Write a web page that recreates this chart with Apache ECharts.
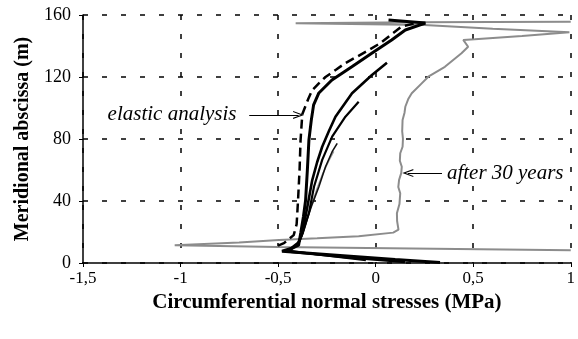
<!DOCTYPE html>
<html><head><meta charset="utf-8">
<script src="https://cdn.jsdelivr.net/npm/echarts@6/dist/echarts.min.js"></script>
<style>html,body{margin:0;padding:0;background:#fff}#c{width:578px;height:339px}</style>
</head><body><div id="c"></div>
<script>
// ---- data (x: MPa, y: m) ----
var xTicks = [-1.5, -1, -0.5, 0, 0.5, 1];
var yTicks = [0, 40, 80, 120, 160];
var elastic = [[-0.5,11.2],[-0.47,12.8],[-0.42,18],[-0.405,25],[-0.398,40],[-0.39,60],[-0.385,79],[-0.376,96],[-0.345,106],[-0.325,111.5],[-0.29,116],[-0.257,120],[-0.2,125],[-0.155,129],[-0.09,133.5],[-0.036,137.4],[0.02,141.5],[0.066,146],[0.133,152.5],[0.2,154.6]];
var mainCurve = [[0.33,0.3],[0.1,2.2],[-0.2,5],[-0.48,7.6],[-0.43,9.5],[-0.395,11.5],[-0.384,19.4],[-0.37,30],[-0.359,40.6],[-0.35,60],[-0.342,79.4],[-0.33,92],[-0.318,102],[-0.291,109.7],[-0.224,118.1],[-0.122,126.6],[-0.02,135.3],[0.082,143.9],[0.152,150.3],[0.255,154.8],[0.066,156.8]];
var curve2 = [[0.15,0.6],[-0.15,3.8],[-0.45,7.4],[-0.4,12],[-0.376,19.2],[-0.35,36.3],[-0.325,53.5],[-0.3,65],[-0.274,75],[-0.24,85],[-0.206,94.4],[-0.121,109.5],[-0.019,121.3],[0.058,129.2]];
var curve3 = [[-0.05,1.8],[-0.3,5.5],[-0.45,8],[-0.39,14],[-0.372,20],[-0.342,32.3],[-0.316,49.2],[-0.274,66.5],[-0.223,81.5],[-0.155,94.4],[-0.087,104]];
var curve4 = [[-0.38,17],[-0.352,28],[-0.325,38],[-0.291,49.2],[-0.257,62.1],[-0.223,71.8],[-0.197,77.2]];
var curve5 = [[-0.37,20],[-0.335,35],[-0.3,48],[-0.27,58],[-0.24,66],[-0.215,72]];
var after30 = [[1.0,8.2],[0.3,9.2],[-0.5,10.3],[-1.03,11.4],[-0.7,13.2],[-0.495,14.8],[-0.3,15.9],[-0.087,17.3],[0.09,19.6],[0.117,21.5],[0.11,27],[0.109,32.1],[0.122,38],[0.126,45],[0.116,49],[0.12,53.5],[0.131,58],[0.134,62.1],[0.124,66],[0.126,70.8],[0.138,75],[0.14,80],[0.136,85],[0.138,92.3],[0.148,97],[0.152,100.8],[0.168,106],[0.185,109.5],[0.236,115.9],[0.27,120.2],[0.355,126.6],[0.44,135.3],[0.474,139.5],[0.449,143.9],[0.508,144.3],[0.75,146.5],[0.993,148.8],[0.6,151.2],[0.25,153.6],[-0.41,154.6],[0.2,155.4],[1.0,155.6]];
// annotations (data coords)
var elasticText = {text: 'elastic analysis', x: -0.708, y: 95.5};
var elasticArrow = [[-0.648, 95.5], [-0.395, 95.5]];
var afterText = {text: 'after 30 years', x: 0.36, y: 58};
var afterArrow = [[0.34, 58], [0.165, 58]];

var chev = 'path://M0,12 L5,0 L10,12 L8.6,12 L5,3.5 L1.4,12 Z';
var serif = '"Liberation Serif","Times New Roman",serif';
var chart = echarts.init(document.getElementById('c'));
function ln(data, color, width, type) {
  return {type: 'line', data: data, showSymbol: false, symbol: 'none', clip: true,
    lineStyle: {color: color, width: width, type: type || 'solid'}, z: 3, animation: false};
}
var arrowSeries = {type: 'line', data: [], markLine: {silent: true, animation: false,
  symbol: ['none', chev], symbolSize: [8, 11], label: {show: false},
  lineStyle: {color: '#000', width: 1.2, type: 'solid'},
  data: [[{coord: elasticArrow[0]}, {coord: elasticArrow[1]}], [{coord: afterArrow[0]}, {coord: afterArrow[1]}]]}};
chart.setOption({
  animation: false,
  backgroundColor: '#fff',
  grid: {left: 83, right: 5, top: 15, bottom: 76},
  xAxis: {type: 'value', min: xTicks[0], max: xTicks[xTicks.length-1], interval: 0.5,
    name: 'Circumferential normal stresses (MPa)', nameLocation: 'middle', nameGap: 22,
    nameTextStyle: {fontFamily: serif, fontWeight: 'bold', fontSize: 21, color: '#000'},
    axisLine: {onZero: false, lineStyle: {color: '#000', width: 1.5}},
    axisTick: {length: 4, lineStyle: {color: '#000'}},
    axisLabel: {fontFamily: serif, fontSize: 17, color: '#000', margin: 7,
      formatter: function (v) { return String(v).replace('.', ','); }},
    splitLine: {show: true, lineStyle: {color: '#000', width: 1.5, type: [5, 14]}}},
  yAxis: {type: 'value', min: yTicks[0], max: yTicks[yTicks.length-1], interval: 40,
    name: 'Meridional abscissa (m)', nameLocation: 'middle', nameGap: 50,
    nameTextStyle: {fontFamily: serif, fontWeight: 'bold', fontSize: 20, color: '#000'},
    axisLine: {show: true, onZero: false, lineStyle: {color: '#000', width: 1.5}},
    axisTick: {show: true, length: 4, lineStyle: {color: '#000'}},
    axisLabel: {fontFamily: serif, fontSize: 18, color: '#000', margin: 12},
    splitLine: {show: true, lineStyle: {color: '#000', width: 1.5, type: [5, 14]}}},
  series: [
    ln(after30, '#8c8c8c', 2),
    ln(curve5, '#9a9a9a', 1.5),
    ln(curve4, '#111', 1.6),
    ln(curve3, '#000', 2.2),
    ln(curve2, '#000', 2.6),
    ln(mainCurve, '#000', 3),
    ln(elastic, '#000', 2.5, [9, 5]),
    arrowSeries
  ]
});
function place() {
  var p1 = chart.convertToPixel({gridIndex: 0}, [elasticText.x, elasticText.y]);
  var p2 = chart.convertToPixel({gridIndex: 0}, [afterText.x, afterText.y]);
  chart.setOption({graphic: [
    {type: 'text', x: p1[0], y: p1[1], z: 10, style: {text: elasticText.text, font: 'italic 21px ' + serif, fill: '#000', align: 'right', verticalAlign: 'middle', backgroundColor: '#fff', padding: [0, 1]}},
    {type: 'text', x: p2[0], y: p2[1], z: 10, style: {text: afterText.text, font: 'italic 21px ' + serif, fill: '#000', align: 'left', verticalAlign: 'middle', backgroundColor: '#fff', padding: [0, 1]}}
  ]});
}
place();
</script></body></html>
